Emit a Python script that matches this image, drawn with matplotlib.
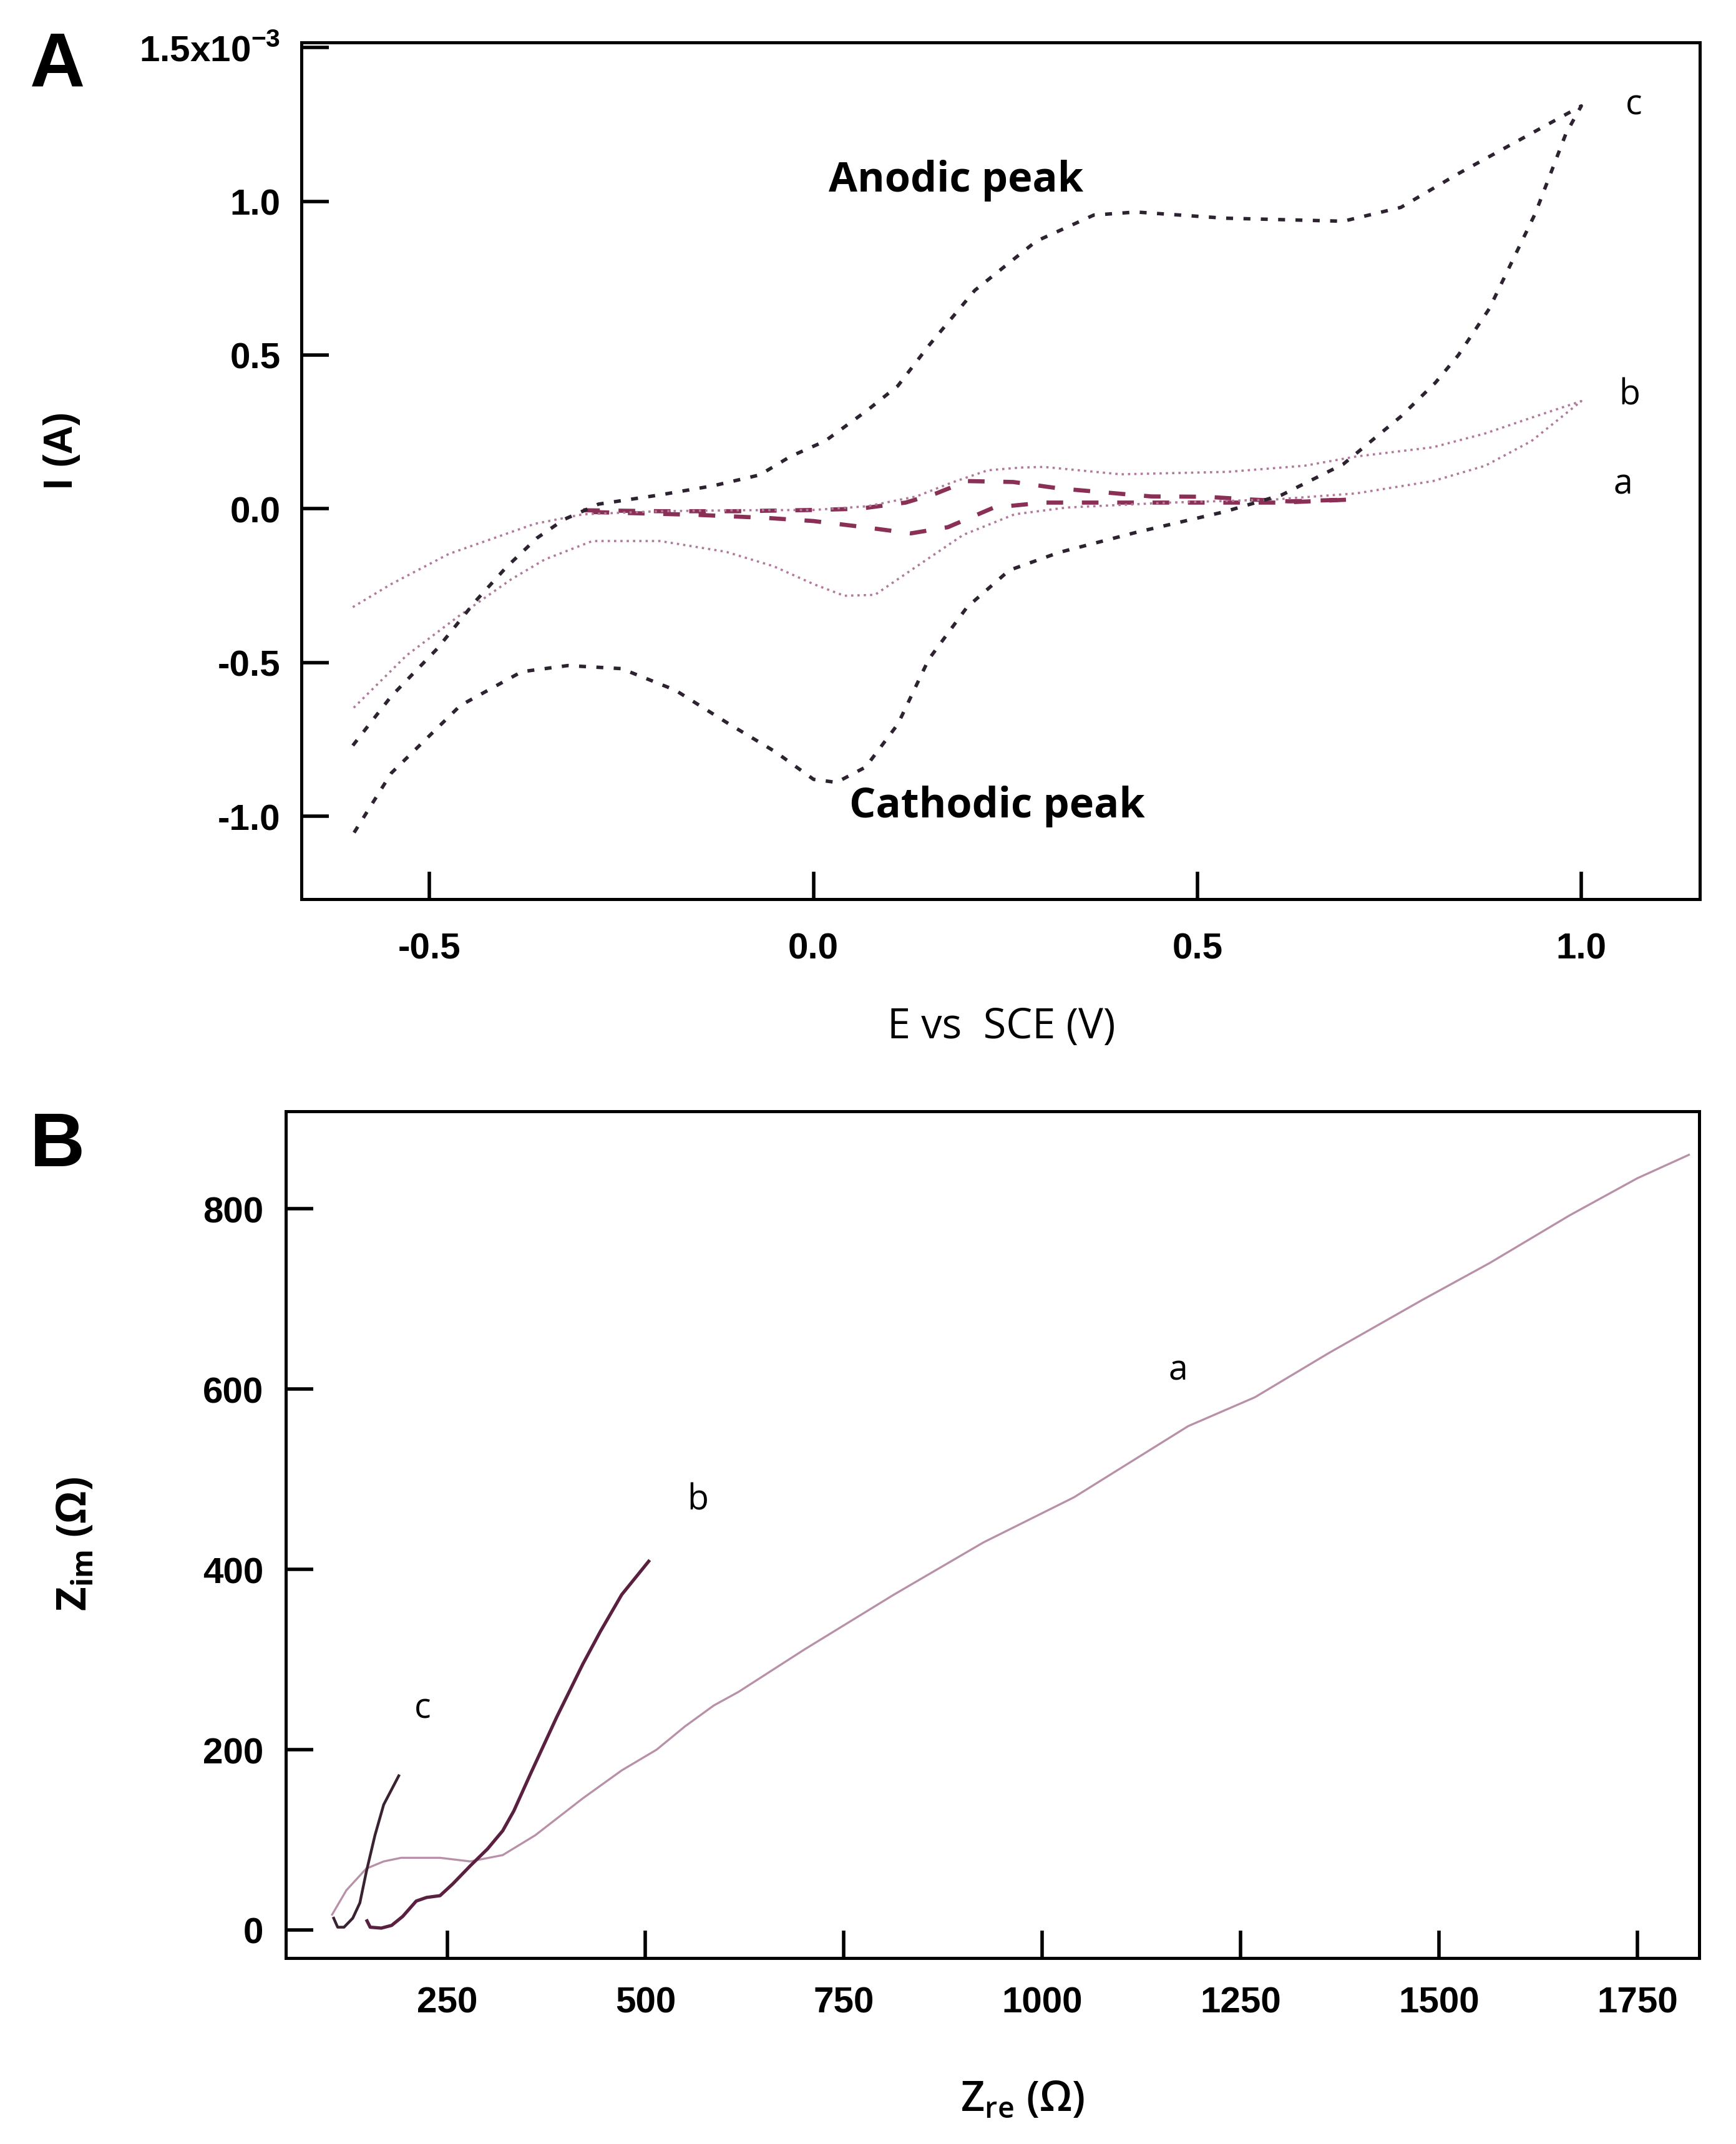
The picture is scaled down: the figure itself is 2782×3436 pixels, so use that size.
import matplotlib
matplotlib.use('Agg')
import matplotlib.pyplot as plt

plt.rcParams['font.family'] = ['Liberation Sans', 'DejaVu Sans']
plt.rcParams['font.weight'] = 'bold'

# ---- panel A: cyclic voltammograms (I in 1e-3 A) ----
a_E = [-0.30, -0.20, -0.10, 0.0, 0.06, 0.12, 0.16, 0.20, 0.26, 0.32, 0.38, 0.44, 0.51, 0.57, 0.62, 0.70,
       0.61, 0.49, 0.36, 0.30, 0.235, 0.175, 0.127, 0.06, 0.0, -0.06, -0.15, -0.30]
a_I = [-0.005, -0.008, -0.008, -0.004, 0.0, 0.02, 0.05, 0.09, 0.087, 0.066, 0.053, 0.04, 0.039, 0.03, 0.024, 0.03,
       0.02, 0.02, 0.02, 0.02, 0.004, -0.06, -0.08, -0.058, -0.04, -0.03, -0.02, -0.01]

b_E = [-0.60, -0.55, -0.475, -0.363, -0.30, -0.20, -0.10, 0.0, 0.07, 0.134, 0.18, 0.227, 0.27, 0.30, 0.40, 0.54,
       0.64, 0.707, 0.807, 0.875, 0.935, 1.0,
       0.935, 0.875, 0.807, 0.707, 0.60, 0.464, 0.33, 0.262, 0.195, 0.127, 0.08, 0.04, 0.0, -0.052, -0.114,
       -0.20, -0.288, -0.35, -0.394, -0.4625, -0.53, -0.60]
b_I = [-0.32, -0.245, -0.147, -0.049, -0.018, -0.008, -0.005, -0.004, 0.008, 0.04, 0.085, 0.125, 0.134, 0.136, 0.112, 0.12,
       0.14, 0.17, 0.20, 0.245, 0.296, 0.35,
       0.22, 0.14, 0.09, 0.05, 0.03, 0.02, 0.004, -0.018, -0.085, -0.20, -0.28, -0.283, -0.245, -0.187, -0.14,
       -0.105, -0.105, -0.165, -0.23, -0.35, -0.477, -0.65]

c_E = [-0.60, -0.55, -0.49, -0.44, -0.40, -0.36, -0.325, -0.28, -0.20, -0.13, -0.07, -0.03, 0.015, 0.07, 0.11,
       0.15, 0.21, 0.29, 0.365, 0.42, 0.535, 0.69, 0.765, 0.84, 0.92, 1.0,
       0.98, 0.94, 0.88, 0.84, 0.81, 0.765, 0.69, 0.61, 0.535, 0.42, 0.32, 0.255, 0.20, 0.15, 0.11, 0.068,
       0.03, 0.0, -0.05, -0.11, -0.18, -0.25, -0.32, -0.38, -0.46, -0.55, -0.60]
c_I = [-0.77, -0.61, -0.455, -0.30, -0.19, -0.095, -0.035, 0.015, 0.045, 0.075, 0.11, 0.17, 0.22, 0.32, 0.40,
       0.53, 0.71, 0.87, 0.955, 0.965, 0.945, 0.935, 0.98, 1.09, 1.20, 1.31,
       1.22, 0.96, 0.65, 0.50, 0.41, 0.30, 0.145, 0.045, -0.01, -0.077, -0.142, -0.20, -0.32, -0.49, -0.70, -0.84,
       -0.89, -0.88, -0.79, -0.70, -0.59, -0.52, -0.51, -0.53, -0.64, -0.86, -1.06]

A_xticks = [-0.5, 0.0, 0.5, 1.0]
A_xlabels = ['-0.5', '0.0', '0.5', '1.0']
A_yticks = [-1.0, -0.5, 0.0, 0.5, 1.0, 1.5]
A_ylabels = ['-1.0', '-0.5', '0.0', '0.5', '1.0', r'1.5x10$^{\mathregular{-3}}$']

# ---- panel B: Nyquist plots ----
a_re = [105, 123, 148, 170, 192, 241, 279, 320, 361, 421, 470, 514, 550, 586, 617, 700, 813, 926, 1040,
        1091, 1184, 1268, 1361, 1479, 1564, 1665, 1750, 1815]
a_im = [17, 44, 68, 76, 80, 80, 76, 83, 105, 146, 177, 200, 226, 249, 264, 311, 372, 430, 480,
        508, 559, 591, 640, 699, 740, 793, 834, 860]

b_re = [149, 153, 167, 180, 194, 211, 224, 241, 257, 279, 301, 320, 334, 356, 388, 421, 443, 470, 504]
b_im = [10, 3, 2, 5, 15, 32, 36, 38, 51, 71, 90, 110, 132, 175, 236, 295, 331, 372, 409]

c_re = [107, 112, 120, 131, 140, 148, 159, 170, 189]
c_im = [13, 3, 3, 13, 30, 64, 105, 139, 171]

B_xticks = [250, 500, 750, 1000, 1250, 1500, 1750]
B_yticks = [0, 200, 400, 600, 800]

txt = ['Open Sans', 'DejaVu Sans']

fig = plt.figure(figsize=(13.91, 17.185), dpi=200)
axA = fig.add_axes([0.1736, 0.5804, 0.979 - 0.1736, 0.980 - 0.5804])
axB = fig.add_axes([0.1648, 0.0868, 0.9788 - 0.1648, 0.4814 - 0.0868])

for ax in (axA, axB):
    for sp in ax.spines.values():
        sp.set_linewidth(1.8)
    ax.tick_params(direction='in', length=16, width=2.0, labelsize=21)

# panel A
axA.plot(a_E, a_I, color='#8a2f55', lw=2.4, linestyle=(0, (4, 4.5)))
axA.plot(b_E, b_I, color='#b07a9c', lw=1.3, linestyle=(0, (1, 1.8)))
axA.plot(c_E, c_I, color='#2d2230', lw=2.0, linestyle=(0, (2, 3)))
axA.set_xlim(-0.667, 1.154)
axA.set_ylim(-1.27, 1.517)
axA.set_xticks(A_xticks, A_xlabels)
axA.set_yticks(A_yticks, A_ylabels)
axA.tick_params(axis='x', pad=19)
axA.tick_params(axis='y', pad=12)
axA.text(0.186, 1.069, 'Anodic peak', family=txt, weight='bold', fontsize=24, ha='center', va='center')
axA.text(0.239, -0.967, 'Cathodic peak', family=txt, weight='bold', fontsize=24, ha='center', va='center')
axA.text(1.068, 1.314, 'c', family=txt, weight='normal', fontsize=20, ha='center', va='center')
axA.text(1.0625, 0.37, 'b', family=txt, weight='normal', fontsize=20, ha='center', va='center')
axA.text(1.054, 0.08, 'a', family=txt, weight='normal', fontsize=20, ha='center', va='center')

# panel B
axB.plot(a_re, a_im, color='#b891a8', lw=1.2)
axB.plot(b_re, b_im, color='#5a2040', lw=1.9)
axB.plot(c_re, c_im, color='#3b2233', lw=1.6)
axB.set_xlim(47, 1828)
axB.set_ylim(-31, 908)
axB.set_xticks(B_xticks)
axB.set_yticks(B_yticks)
axB.tick_params(axis='x', pad=16)
axB.tick_params(axis='y', pad=13)
axB.text(1171, 621, 'a', family=txt, weight='normal', fontsize=20, ha='center', va='center')
axB.text(566, 477, 'b', family=txt, weight='normal', fontsize=20, ha='center', va='center')
axB.text(219, 246, 'c', family=txt, weight='normal', fontsize=20, ha='center', va='center')

# axis titles and panel letters
fig.text(0.577, 0.521, 'E vs  SCE (V)', family=txt, weight='normal', fontsize=24, ha='center', va='center')
fig.text(0.0356, 0.790, 'I (A)', weight='bold', fontsize=23, rotation=90, ha='center', va='center')
fig.text(0.589, 0.0207, r'Z$_{\mathregular{re}}$ (Ω)', family=txt, weight='semibold', fontsize=24,
         ha='center', va='center')
fig.text(0.0435, 0.28, r'Z$_{\mathregular{im}}$ (Ω)', family=txt, weight='bold', fontsize=24,
         rotation=90, ha='center', va='center')
fig.text(0.0332, 0.969, 'A', weight='bold', fontsize=44, ha='center', va='center')
fig.text(0.0332, 0.4655, 'B', weight='bold', fontsize=44, ha='center', va='center')

fig.savefig('out.png', dpi=200, facecolor='white')
